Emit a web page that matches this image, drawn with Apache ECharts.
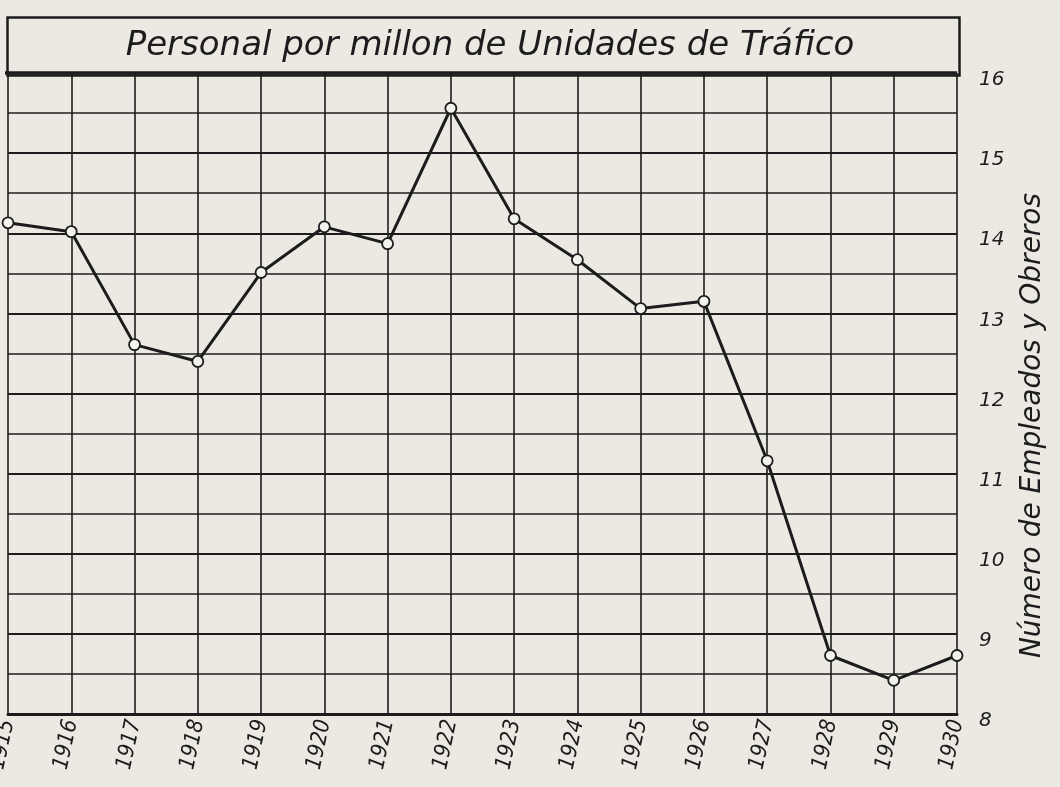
<!DOCTYPE html>
<html><head><meta charset="utf-8">
<script src="https://cdn.jsdelivr.net/npm/echarts@6/dist/echarts.min.js"></script>
<style>html,body{margin:0;padding:0;background:#ebe9e2;}#c{width:1060px;height:787px;}</style>
</head><body><div id="c"></div>
<script>
const years = ['1915','1916','1917','1918','1919','1920','1921','1922','1923','1924','1925','1926','1927','1928','1929','1930'];
const personal = [14.13, 14.02, 12.61, 12.40, 13.51, 14.08, 13.87, 15.56, 14.18, 13.67, 13.06, 13.15, 11.16, 8.73, 8.42, 8.73];
const yTicks = [8, 16, 1];
const titleText = 'Personal por millon de Unidades de Tráfico';
const yName = 'Número de Empleados y Obreros';

const ink = '#1c1c1c';
const font = 'DejaVu Sans';
const chart = echarts.init(document.getElementById('c'));
chart.setOption({
  backgroundColor: '#ebe9e2',
  animation: false,
  title: {
    text: titleText, left: 485, top: 24, textAlign: 'center',
    textStyle: {fontFamily: font, fontStyle: 'italic', fontWeight: 'normal', fontSize: 34, color: ink}
  },
  grid: {left: 8, right: 103, top: 73, bottom: 73, outerBoundsMode: 'none', containLabel: false},
  xAxis: {
    type: 'category', data: years, boundaryGap: false,
    axisLine: {show: true, lineStyle: {color: ink, width: 3}},
    axisTick: {show: false},
    axisLabel: {rotate: 78, margin: 6, fontFamily: 'DejaVu Sans Condensed', fontStyle: 'italic', fontSize: 22, color: ink},
    splitLine: {show: true, lineStyle: {color: ink, width: 1.6}}
  },
  yAxis: {
    type: 'value', position: 'right', min: yTicks[0], max: yTicks[1], interval: yTicks[2],
    name: yName, nameLocation: 'middle', nameRotate: 90, nameGap: 62,
    nameTextStyle: {fontFamily: font, fontStyle: 'italic', fontSize: 28, color: ink, padding: [0, 64, 0, 0]},
    axisLine: {show: false}, axisTick: {show: false},
    axisLabel: {margin: 22, fontFamily: font, fontStyle: 'italic', fontSize: 20, color: ink, verticalAlign: 'top', lineHeight: 14},
    splitLine: {show: true, lineStyle: {color: ink, width: 2.2}},
    minorTick: {show: false, splitNumber: 2},
    minorSplitLine: {show: true, lineStyle: {color: ink, width: 1.6}}
  },
  series: [{
    type: 'line', data: personal,
    symbol: 'circle', symbolSize: 11, showAllSymbol: true,
    lineStyle: {color: ink, width: 3},
    itemStyle: {color: '#f4f2ec', borderColor: ink, borderWidth: 1.8},
    z: 5
  }],
  graphic: [{
    type: 'rect', left: 5, top: 15, shape: {width: 952, height: 58},
    style: {fill: 'none', stroke: ink, lineWidth: 2.5}, z: 10
  },{
    type: 'line', shape: {x1: 5, y1: 73, x2: 957, y2: 73}, style: {stroke: ink, lineWidth: 3.5}, z: 10
  }]
});
</script></body></html>
